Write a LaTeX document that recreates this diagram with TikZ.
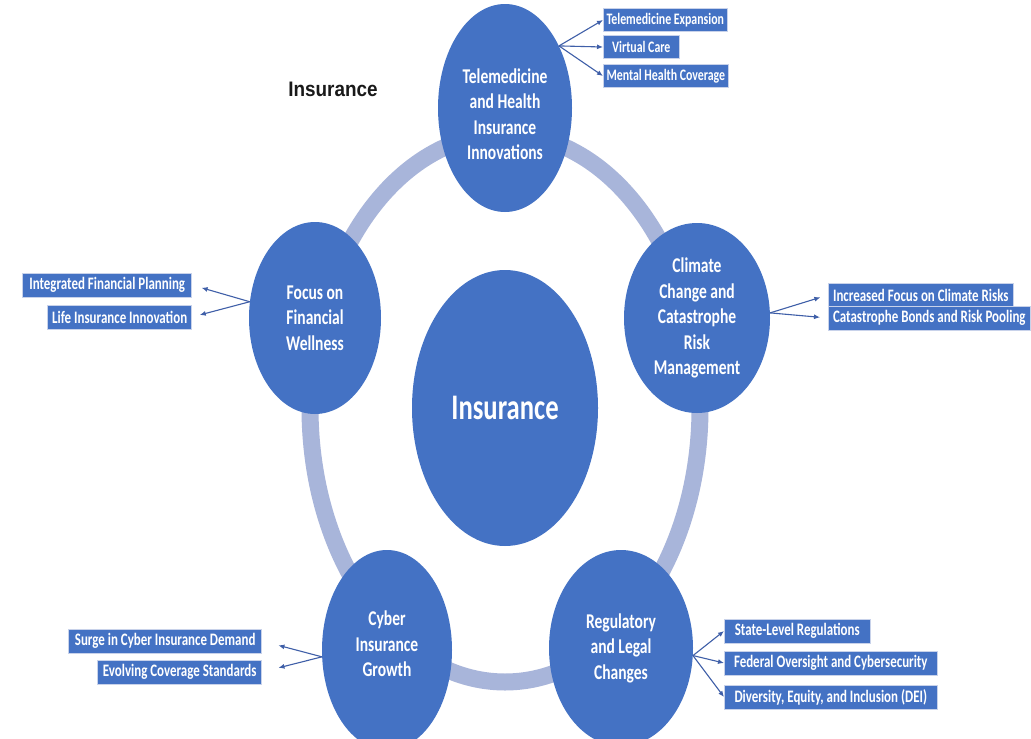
\documentclass[tikz,border=0pt]{standalone}
\usepackage{fontspec}
\usetikzlibrary{shapes.geometric,arrows.meta}
\newfontfamily\cf{Carlito}[FakeStretch=0.74]
\newfontfamily\hf{Liberation Sans}[FakeStretch=0.9]
\definecolor{nblue}{HTML}{4472C4}
\definecolor{ringc}{HTML}{A8B5DA}
\definecolor{arr}{HTML}{3F5FA8}
\definecolor{bline}{HTML}{C8D2EA}
\begin{document}
\begin{tikzpicture}[x=1pt,y=-1pt,
  topic/.style={ellipse, fill=nblue, draw=none, inner sep=0pt, text=white,
    font=\cf\bfseries\fontsize{21}{25.5}\selectfont, align=center},
  toptext/.style={inner sep=0pt, text=white,
    font=\cf\bfseries\fontsize{21}{25.5}\selectfont, align=center},
  lbl/.style={rectangle, fill=nblue, draw=bline, line width=0.6pt, text=white,
    font=\cf\bfseries\fontsize{17.5}{20}\selectfont, inner xsep=2pt, inner ysep=0pt,
    minimum height=24pt, minimum width=#1},
  lbl/.default=10pt,
  toplbl/.style={lbl=#1, minimum height=23pt, font=\cf\bfseries\fontsize{16}{20}\selectfont},
  conn/.style={draw=arr, line width=1.1pt, -{Latex[length=6pt,width=5pt]}}]
\useasboundingbox (0,0) rectangle (1031,739);
\fill[white] (0,0) rectangle (1031,739);
% ring
\draw[ringc, line width=17pt] (505,408) ellipse [x radius=195, y radius=274];
% heading
\node[font=\hf\bfseries\fontsize{21}{24}\selectfont, text=black!90] (head) at (333,89) {Insurance};
% central node
\node[topic, minimum width=186, minimum height=276, font=\cf\bfseries\fontsize{36}{40}\selectfont] (core) at (505,408) {Insurance};
% topics
\node[topic, minimum width=134, minimum height=208] (tele) at (505,108) {};
\node[toptext] (teletext) at (505,114) {Telemedicine\\and Health\\Insurance\\Innovations};
\node[topic, minimum width=132, minimum height=192] (fin) at (315,318) {Focus on\\Financial\\Wellness};
\node[topic, minimum width=146, minimum height=190] (clim) at (697,318) {Climate\\Change and\\Catastrophe\\Risk\\Management};
\node[topic, minimum width=130, minimum height=200] (cyb) at (387,650) {};
\node[toptext] (cybtext) at (387,644) {Cyber\\Insurance\\Growth};
\node[topic, minimum width=144, minimum height=196] (reg) at (621,648) {Regulatory\\and Legal\\Changes};
% labels top
\node[toplbl=124pt, anchor=west] (t1) at (603,20) {Telemedicine Expansion};
\node[toplbl=76pt, anchor=west] (t2) at (603,47) {Virtual Care};
\node[toplbl=125pt, anchor=west] (t3) at (603,76) {Mental Health Coverage};
% labels left
\node[lbl=169pt, anchor=east] (l1) at (192,285) {Integrated Financial Planning};
\node[lbl=144pt, anchor=east] (l2) at (192,317) {Life Insurance Innovation};
% labels right
\node[lbl=185pt, anchor=west] (r1) at (828,295) {Increased Focus on Climate Risks};
\node[lbl=202pt, anchor=west] (r2) at (828,318) {Catastrophe Bonds and Risk Pooling};
% labels bottom left
\node[lbl=193pt, anchor=east] (c1) at (262,641) {Surge in Cyber Insurance Demand};
\node[lbl=164pt, anchor=east] (c2) at (262,672) {Evolving Coverage Standards};
% labels bottom right
\node[lbl=146pt, anchor=west] (g1) at (724,631) {State-Level Regulations};
\node[lbl=213pt, anchor=west] (g2) at (724,663) {Federal Oversight and Cybersecurity};
\node[lbl=213pt, anchor=west] (g3) at (724,697) {Diversity, Equity, and Inclusion (DEI)};
% connectors
\draw[conn] (tele.49) -- (t1.west);
\draw[conn] (tele.49) -- (t2.west);
\draw[conn] (tele.49) -- (t3.west);
\draw[conn, shorten >=10pt] (fin.166) -- (l1.east);
\draw[conn, shorten >=8pt] (fin.166) -- (l2.east);
\draw[conn, shorten >=8pt] (clim.4) -- (r1.west);
\draw[conn, shorten >=8pt] (clim.4) -- (r2.west);
\draw[conn, shorten >=17pt] (cyb.186) -- (c1.east);
\draw[conn, shorten >=17pt] (cyb.186) -- (c2.east);
\draw[conn] (reg.354) -- (g1.west);
\draw[conn] (reg.354) -- (g2.west);
\draw[conn] (reg.354) -- (g3.west);
\end{tikzpicture}
\end{document}
